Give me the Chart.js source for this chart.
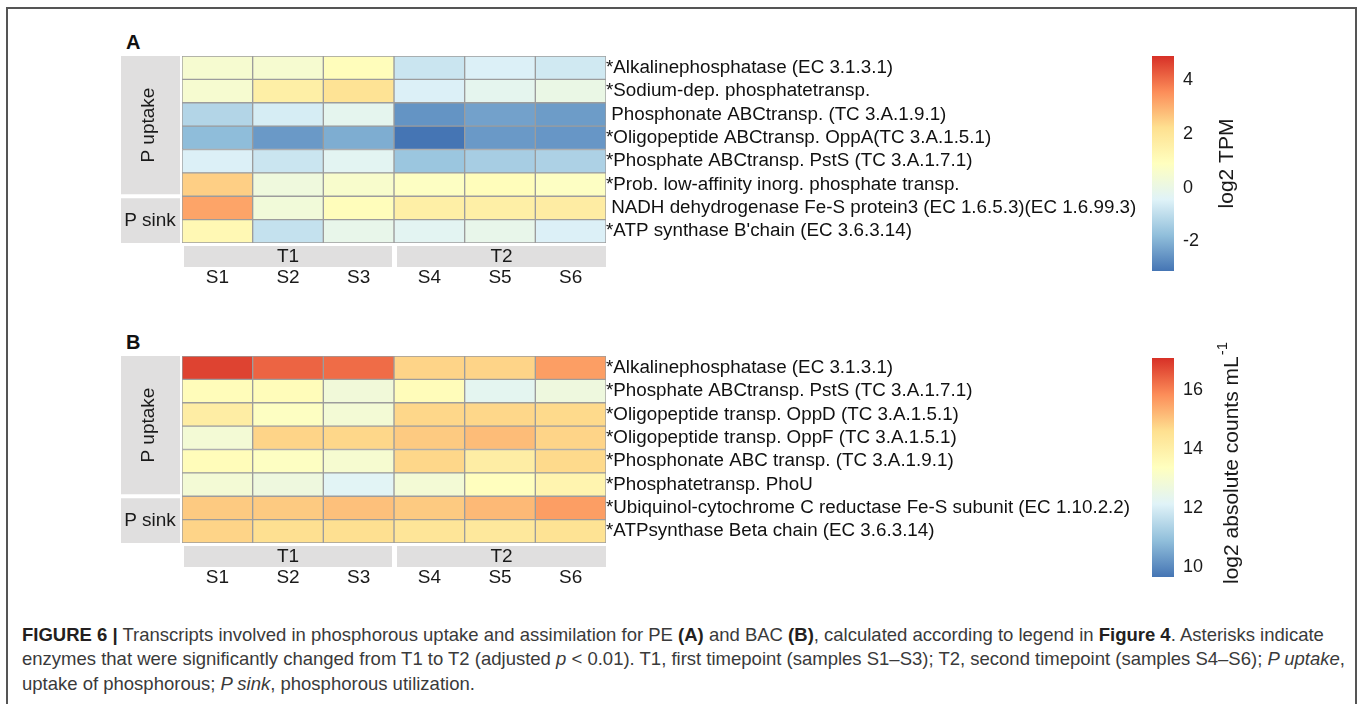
<!DOCTYPE html>
<html><head><meta charset="utf-8">
<script src="https://cdn.jsdelivr.net/npm/chart.js@4.4.1/dist/chart.umd.min.js"></script>
<style>
html,body{margin:0;padding:0;background:#fff;}
body{width:1358px;height:704px;position:relative;overflow:hidden;font-family:"Liberation Sans",Arial,sans-serif;}
#frame{position:absolute;left:6px;top:7px;width:1351px;height:720px;border:2px solid #555;border-bottom:none;box-sizing:border-box;}
canvas{position:absolute;}
.letter{position:absolute;font-weight:bold;font-size:20px;color:#111;line-height:20px;}
#caption{position:absolute;left:22px;top:623px;width:1330px;font-size:18.5px;line-height:24.3px;color:#3a3a3a;white-space:nowrap;}
#caption b{color:#231f20;}
</style></head>
<body>
<div id="frame"></div>
<div class="letter" style="left:126px;top:32px;">A</div>
<div class="letter" style="left:126px;top:332px;">B</div>
<canvas id="heatA" width="1040" height="265" style="left:110px;top:30px;"></canvas>
<canvas id="heatB" width="1040" height="265" style="left:110px;top:330px;"></canvas>
<canvas id="barA" width="210" height="255" style="left:1140px;top:36px;"></canvas>
<canvas id="barB" width="210" height="272" style="left:1140px;top:328px;"></canvas>
<div id="caption"><b>FIGURE 6 |</b> Transcripts involved in phosphorous uptake and assimilation for PE <b>(A)</b> and BAC <b>(B)</b>, calculated according to legend in <b>Figure 4</b>. Asterisks indicate<br>enzymes that were significantly changed from T1 to T2 (adjusted <i>p</i> &lt; 0.01). T1, first timepoint (samples S1–S3); T2, second timepoint (samples S4–S6); <i>P uptake</i>,<br>uptake of phosphorous; <i>P sink</i>, phosphorous utilization.</div>
<script>
// ---- data ----
const samples = ['S1','S2','S3','S4','S5','S6'];
const timeGroups = ['T1','T2'];
const timeGroupSize = [3,3];
const rowGroups = ['P uptake','P sink'];
const rowGroupSize = [6,2];

const genesA = [
  '*Alkalinephosphatase (EC 3.1.3.1)',
  '*Sodium-dep. phosphatetransp.',
  ' Phosphonate ABCtransp. (TC 3.A.1.9.1)',
  '*Oligopeptide ABCtransp. OppA(TC 3.A.1.5.1)',
  '*Phosphate ABCtransp. PstS (TC 3.A.1.7.1)',
  '*Prob. low-affinity inorg. phosphate transp.',
  ' NADH dehydrogenase Fe-S protein3 (EC 1.6.5.3)(EC 1.6.99.3)',
  "*ATP synthase B'chain (EC 3.6.3.14)"
];
const tpmS1 = [0.5, 0.5, -1.2, -1.8, -0.5, 2.5, 3.2, 1.2];
const tpmS2 = [0.5, 1.6, -0.6, -2.45, -0.8, 0.2, 0.3, -0.9];
const tpmS3 = [1.0, 2.1, -0.2, -2.1, -0.3, 0.6, 1.0, -0.1];
const tpmS4 = [-0.8, -0.5, -2.55, -3.1, -1.6, 0.8, 1.6, -0.3];
const tpmS5 = [-0.5, -0.2, -2.3, -2.45, -1.4, 1.0, 1.6, -0.1];
const tpmS6 = [-0.7, 0.0, -2.4, -2.5, -1.3, 0.8, 1.7, -0.5];

const genesB = [
  '*Alkalinephosphatase (EC 3.1.3.1)',
  '*Phosphate ABCtransp. PstS (TC 3.A.1.7.1)',
  '*Oligopeptide transp. OppD (TC 3.A.1.5.1)',
  '*Oligopeptide transp. OppF (TC 3.A.1.5.1)',
  '*Phosphonate ABC transp. (TC 3.A.1.9.1)',
  '*Phosphatetransp. PhoU',
  '*Ubiquinol-cytochrome C reductase Fe-S subunit (EC 1.10.2.2)',
  '*ATPsynthase Beta chain (EC 3.6.3.14)'
];
const countsS1 = [16.85, 13.5, 14.1, 12.9, 13.5, 12.9, 14.95, 14.8];
const countsS2 = [16.4, 13.5, 13.3, 14.8, 13.3, 12.7, 14.95, 14.6];
const countsS3 = [16.3, 12.8, 12.9, 14.75, 13.0, 12.2, 15.1, 14.6];
const countsS4 = [14.8, 13.5, 14.75, 14.95, 14.75, 12.9, 14.95, 14.4];
const countsS5 = [14.8, 12.3, 14.75, 15.15, 14.1, 13.4, 15.2, 14.3];
const countsS6 = [15.6, 12.7, 14.7, 14.8, 14.7, 13.8, 15.6, 14.5];

const cbRangeA = [-3.1, 4.9];
const cbTicksA = [-2, 0, 2, 4];
const cbRangeB = [9.65, 17.1];
const cbTicksB = [10, 12, 14, 16];
const palette = ['#4575B4','#91BFDB','#E0F3F8','#FFFFBF','#FEE090','#FC8D59','#D73027'];

// ---- helpers ----
const FF = '"Liberation Sans", Arial, sans-serif';
function hex(c){return [parseInt(c.slice(1,3),16),parseInt(c.slice(3,5),16),parseInt(c.slice(5,7),16)];}
function colorFor(v, lo, hi){
  let t = (v-lo)/(hi-lo); t = Math.max(0, Math.min(1, t));
  const p = t*(palette.length-1); const i = Math.min(palette.length-2, Math.floor(p)); const f = p-i;
  const a = hex(palette[i]), b = hex(palette[i+1]);
  return 'rgb(' + a.map((x,k)=>Math.round(x+(b[k]-x)*f)).join(',') + ')';
}
Chart.defaults.font.family = FF;
Chart.defaults.color = '#1a1a1a';

const stripPlugin = {
  id: 'strips',
  afterDraw(chart){
    const {ctx, chartArea: a} = chart;
    const xs = chart.scales.x;
    const nRows = chart.data.labels.length;
    const rowH = (a.bottom - a.top) / nRows;
    ctx.save();
    ctx.font = '19px ' + FF;
    ctx.textAlign = 'center'; ctx.textBaseline = 'middle';
    let r0 = 0;
    rowGroups.forEach((lab, g) => {
      const r1 = r0 + rowGroupSize[g];
      const y0 = a.top + r0*rowH + (r0 > 0 ? 2 : 0);
      const y1 = a.top + r1*rowH - (r1 < nRows ? 2 : 0);
      ctx.fillStyle = '#e0dfdf';
      ctx.fillRect(a.left - 61, y0, 59, y1 - y0);
      ctx.fillStyle = '#1a1a1a';
      const cx = a.left - 32, cy = (y0 + y1) / 2;
      if (rowGroupSize[g] > 3) {
        ctx.save(); ctx.translate(cx - 1, cy); ctx.rotate(-Math.PI/2); ctx.fillText(lab, 0, 0); ctx.restore();
      } else {
        ctx.fillText(lab, cx, cy);
      }
      r0 = r1;
    });
    let c0 = 0;
    timeGroups.forEach((lab, g) => {
      const c1 = c0 + timeGroupSize[g];
      const x0 = xs.getPixelForValue(c0) + (c0 > 0 ? 3 : 2);
      const x1 = xs.getPixelForValue(c1) - (c1 < samples.length ? 2 : 0);
      ctx.fillStyle = '#e0dfdf';
      ctx.fillRect(x0, a.bottom + 3, x1 - x0, 21);
      ctx.fillStyle = '#1a1a1a';
      ctx.fillText(lab, (x0 + x1) / 2, a.bottom + 14);
      c0 = c1;
    });
    ctx.restore();
  }
};

function makeHeat(id, genes, cols, range){
  const datasets = cols.map((vals, s) => ({
    data: vals.map(() => [s, s + 1]),
    backgroundColor: vals.map(v => colorFor(v, range[0], range[1])),
    borderColor: '#9c9c9c', borderWidth: 1, borderSkipped: false,
    barPercentage: 1, categoryPercentage: 1, grouped: false
  }));
  return new Chart(document.getElementById(id), {
    type: 'bar',
    data: {labels: genes, datasets},
    options: {
      indexAxis: 'y', responsive: false, animation: false, events: [],
      layout: {padding: {left: 72, top: 26, right: 0, bottom: 0}},
      plugins: {legend: {display: false}, tooltip: {enabled: false}},
      scales: {
        x: {type: 'linear', min: 0, max: samples.length, position: 'bottom',
          grid: {display: false, drawTicks: false}, border: {display: false},
          afterBuildTicks: sc => { sc.ticks = samples.map((_, i) => ({value: i + 0.5})); },
          ticks: {callback: v => samples[Math.floor(v)], padding: 23, font: {size: 19}, color: '#1a1a1a', autoSkip: false, maxRotation: 0},
          afterFit: sc => { sc.height = 52; sc.paddingLeft = 0; sc.paddingRight = 0; }
        },
        y: {type: 'category', position: 'right',
          grid: {display: false, drawTicks: false}, border: {display: false},
          ticks: {padding: 0, font: {size: 18.8}, color: '#111', autoSkip: false},
          afterFit: sc => { sc.width = 544; sc.paddingTop = 0; sc.paddingBottom = 0; }
        }
      }
    },
    plugins: [stripPlugin]
  });
}

const titlePlugin = {
  id: 'cbTitle',
  afterDraw(chart, args, opts){
    const {ctx, chartArea: a} = chart;
    ctx.save();
    ctx.fillStyle = '#1a1a1a';
    ctx.translate(a.right + opts.dx, (a.top + a.bottom) / 2 + (opts.dy || 0));
    ctx.rotate(-Math.PI/2);
    ctx.textBaseline = 'middle';
    ctx.font = '21px ' + FF;
    const w = ctx.measureText(opts.text).width;
    let sw = 0;
    if (opts.sup) { ctx.font = '15px ' + FF; sw = ctx.measureText(opts.sup).width; }
    const start = -(w + sw) / 2;
    ctx.textAlign = 'left';
    ctx.font = '21px ' + FF;
    ctx.fillText(opts.text, start, 0);
    if (opts.sup) {
      ctx.font = '15px ' + FF;
      ctx.fillText(opts.sup, start + w + 1, -9);
    }
    ctx.restore();
  }
};

function makeBar(id, range, ticks, title, padTop, padBottom){
  const el = document.getElementById(id);
  return new Chart(el, {
    type: 'bar',
    data: {labels: [''], datasets: [{
      data: [[range[0], range[1]]],
      backgroundColor: c => {
        const ch = c.chart; if (!ch.chartArea) return palette[3];
        const ys = ch.scales.y;
        const g = ch.ctx.createLinearGradient(0, ys.getPixelForValue(range[0]), 0, ys.getPixelForValue(range[1]));
        palette.forEach((col, i) => g.addColorStop(i / (palette.length - 1), col));
        return g;
      },
      borderWidth: 0, barPercentage: 1, categoryPercentage: 1
    }]},
    options: {
      responsive: false, animation: false, events: [],
      layout: {padding: {left: 12, top: padTop, bottom: padBottom, right: 0}},
      plugins: {legend: {display: false}, tooltip: {enabled: false}, cbTitle: title},
      scales: {
        x: {display: false},
        y: {min: range[0], max: range[1], position: 'right',
          grid: {display: false, drawTicks: false}, border: {display: false},
          afterBuildTicks: sc => { sc.ticks = ticks.map(v => ({value: v})); },
          ticks: {padding: 9, font: {size: 18}, color: '#1a1a1a'},
          afterFit: sc => { sc.width = el.width - 12 - 22; sc.paddingTop = 0; sc.paddingBottom = 0; }
        }
      }
    },
    plugins: [titlePlugin]
  });
}

makeHeat('heatA', genesA, [tpmS1, tpmS2, tpmS3, tpmS4, tpmS5, tpmS6], cbRangeA);
makeHeat('heatB', genesB, [countsS1, countsS2, countsS3, countsS4, countsS5, countsS6], cbRangeB);
// barA canvas: top 36, area 56..271
makeBar('barA', cbRangeA, cbTicksA, {text: 'log2 TPM', dx: 53}, 20, 20);
// barB canvas: top 328, area 358..577
makeBar('barB', cbRangeB, cbTicksB, {text: 'log2 absolute counts mL', sup: '-1', dx: 58, dy: -4}, 30, 23);
</script>
</body></html>
